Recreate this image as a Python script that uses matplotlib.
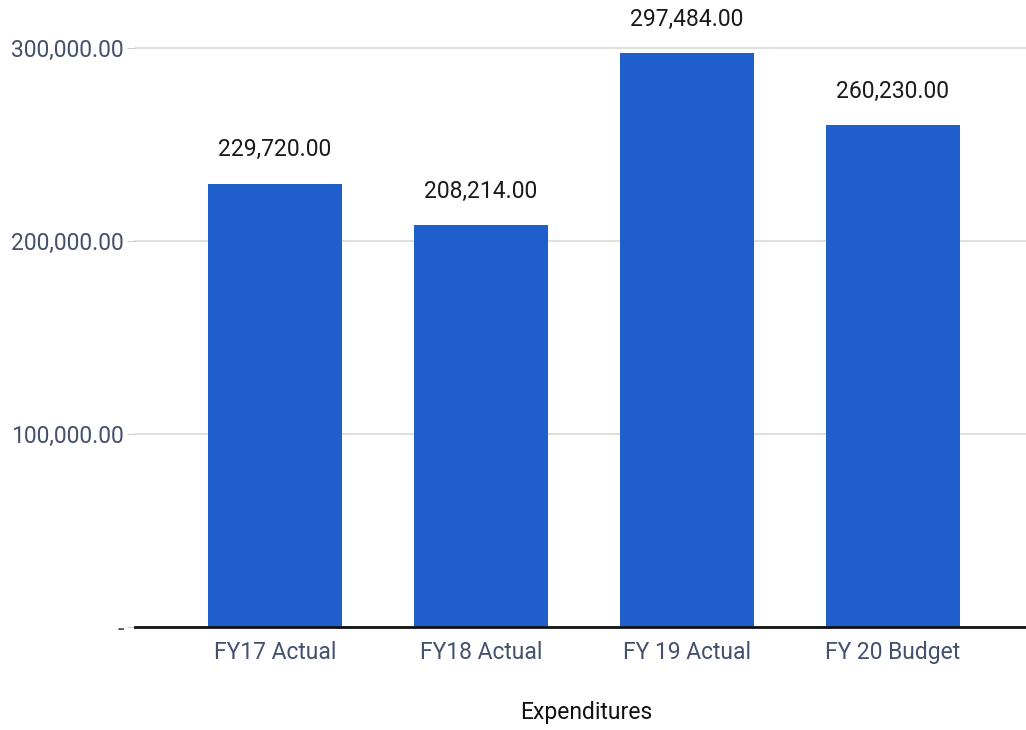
import matplotlib
matplotlib.use("Agg")
import matplotlib.pyplot as plt
from matplotlib.ticker import FuncFormatter

categories = ["FY17 Actual", "FY18 Actual", "FY 19 Actual", "FY 20 Budget"]
values = [229720, 208214, 297484, 260230]
y_ticks = [0, 100000, 200000, 300000]
x_title = "Expenditures"

plt.rcParams['font.family'] = ['Roboto', 'DejaVu Sans']

fig = plt.figure(figsize=(10.26, 7.30), dpi=100)
ax = fig.add_axes([135/1026, (730-627)/730, 1 - 135/1026, 627/730])

x = range(len(categories))
bars = ax.bar(x, values, width=0.65, color='#1f5fcc', zorder=3)
for xi, v in zip(x, values):
    ax.annotate(f"{v:,.2f}", (xi, v), xytext=(0, 16), textcoords='offset points',
                ha='center', va='bottom', fontsize=16.5, color='#1a1a1a')

ax.set_xlim(-0.68, 3.646)
ax.set_ylim(0, 324870)
ax.set_yticks(y_ticks)
ax.yaxis.set_major_formatter(FuncFormatter(lambda v, p: "-" if v == 0 else f"{v:,.2f}"))
ax.set_xticks(list(x))
ax.set_xticklabels(categories)
ax.tick_params(axis='x', length=0, pad=10, labelsize=16.5, labelcolor='#45506e')
ax.tick_params(axis='y', length=6, width=0.8, color='#cccccc', pad=2, labelsize=16.5, labelcolor='#45506e')
ax.grid(axis='y', color='#d9d9d9', linewidth=1.2, zorder=0)
for s in ['top', 'right', 'left']:
    ax.spines[s].set_visible(False)
ax.spines['bottom'].set_color('#111111')
ax.spines['bottom'].set_linewidth(2)
ax.spines['bottom'].set_zorder(4)

fig.text(586/1026, 1 - 713/730, x_title, ha='center', va='center', fontsize=16.5, color='#111111')

fig.savefig("out.png", dpi=100)
